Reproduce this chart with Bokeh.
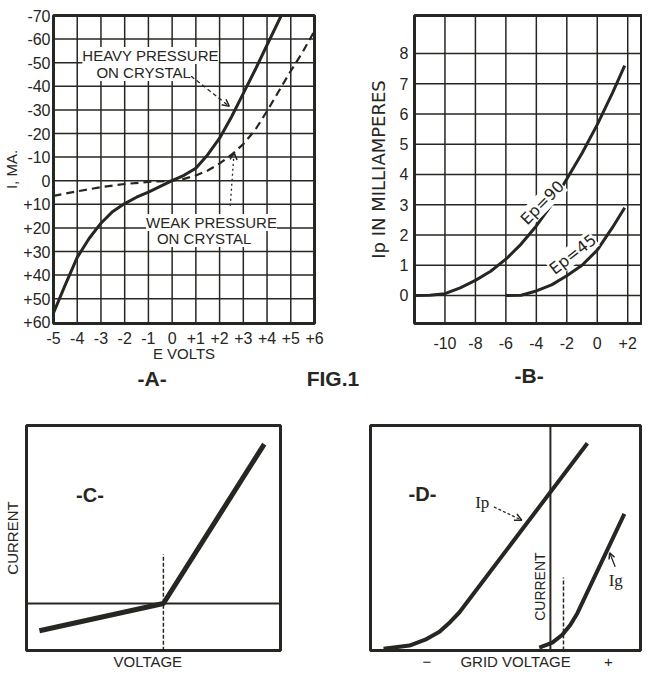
from bokeh.plotting import figure
from bokeh.models import Range1d, FixedTicker, Label, Arrow, OpenHead, Span, Title
from bokeh.layouts import column, row
from bokeh.embed import file_html
from bokeh.resources import INLINE

# ---------------- data ----------------
# Panel A: crystal detector characteristics (E volts vs I mA)
a_volts_heavy = [-5, -4.5, -4, -3.5, -3, -2.5, -2, -1.5, -1, -0.5, 0, 0.5, 1, 1.5, 2, 2.5, 3, 3.5, 4, 4.6]
a_ma_heavy = [56, 44, 32.5, 24.5, 18, 13, 9.7, 7, 4.8, 2.4, 0, -2.3, -5.3, -11, -18, -27, -37, -47, -57.5, -70]
a_volts_weak = [-5, -4, -3, -2, -1, 0, 0.5, 1, 1.5, 2, 2.5, 3, 3.5, 4, 4.5, 5, 5.5, 6]
a_ma_weak = [6.4, 4.5, 2.7, 1.4, 0.5, 0, -0.8, -2.2, -4.3, -7.3, -11, -15.5, -21.5, -29.5, -38, -46.5, -54.5, -63.5]
a_xticks = [-5, -4, -3, -2, -1, 0, 1, 2, 3, 4, 5, 6]
a_xtick_labels = ["-5", "-4", "-3", "-2", "-1", "0", "+1", "+2", "+3", "+4", "+5", "+6"]
a_yticks = [-70, -60, -50, -40, -30, -20, -10, 0, 10, 20, 30, 40, 50, 60]
a_ytick_labels = ["-70", "-60", "-50", "-40", "-30", "-20", "-10", "0", "+10", "+20", "+30", "+40", "+50", "+60"]

# Panel B: plate current vs grid volts
b_grid_90 = [-12, -11, -10, -9, -8, -7, -6, -5, -4, -3, -2, -1, 0, 1, 1.8]
b_ip_90 = [0, 0.01, 0.06, 0.25, 0.5, 0.8, 1.2, 1.7, 2.3, 3.0, 3.85, 4.7, 5.65, 6.7, 7.6]
b_grid_45 = [-6, -5, -4, -3, -2, -1, 0, 1, 1.8]
b_ip_45 = [0, 0.01, 0.15, 0.35, 0.65, 1.0, 1.5, 2.25, 2.9]
b_xticks = [-10, -8, -6, -4, -2, 0, 2]
b_xtick_labels = ["-10", "-8", "-6", "-4", "-2", "0", "+2"]
b_yticks = [0, 1, 2, 3, 4, 5, 6, 7, 8]
b_ytick_labels = ["0", "1", "2", "3", "4", "5", "6", "7", "8"]

# Panel C: idealised rectifier characteristic (arbitrary units)
c_voltage = [-48.8, 0, 39.7]
c_current = [-12.1, 0, 70.8]
c_marker_v = [0, 0]
c_marker_i = [-21, 21.9]

# Panel D: plate and grid current vs grid voltage (arbitrary units)
d_ip_v = [-60, -50.7, -45, -39.9, -36, -32.7, 13.3]
d_ip_i = [0.8, 2.2, 4.8, 8.3, 12.7, 17.0, 92.1]
d_ig_v = [-4.0, 0.7, 4.3, 7.2, 9.7, 26.6]
d_ig_i = [1.3, 3.5, 7.0, 11.4, 16.6, 60.7]
d_marker_v = [4.7, 4.7]
d_marker_i = [0, 32.4]

# ---------------- style ----------------
INK = "#262622"
FONT = "Liberation Sans"
NB = "\u00a0"


def make_fig(w, h, xr, yr, l, r, t, b):
    p = figure(width=w, height=h, x_range=xr, y_range=yr,
               output_backend="svg", toolbar_location=None,
               min_border_left=l, min_border_right=r,
               min_border_top=t, min_border_bottom=b)
    p.background_fill_color = "white"
    p.border_fill_color = "white"
    p.outline_line_color = INK
    p.outline_line_width = 3
    p.grid.visible = False
    for ax in p.axis:
        ax.major_tick_line_color = None
        ax.minor_tick_line_color = None
        ax.minor_tick_out = 0
        ax.major_tick_out = 0
        ax.axis_line_color = None
        ax.major_label_text_font = FONT
        ax.major_label_text_font_size = "16px"
        ax.major_label_text_color = INK
        ax.axis_label_text_font = FONT
        ax.axis_label_text_font_size = "15px"
        ax.axis_label_text_font_style = "normal"
        ax.axis_label_text_color = INK
    return p


def grid_lines(p, xt, yt):
    for t in xt:
        p.add_layout(Span(location=t, dimension="height", line_color=INK, line_width=1.5))
    for t in yt:
        p.add_layout(Span(location=t, dimension="width", line_color=INK, line_width=1.5))


def lab(p, x, y, text, size="15px", bold=False, angle=0.0, bg=None, align="center", font=FONT):
    p.add_layout(Label(x=x, y=y, text=text, text_align=align, text_baseline="middle",
                       text_font=font, text_font_size=size, text_color=INK,
                       text_font_style="bold" if bold else "normal", angle=angle,
                       background_fill_color=bg))


def caption(p, text, offset, standoff, size="21px", bold=True):
    p.add_layout(Title(text=text, align="left", offset=offset, standoff=standoff,
                       text_font=FONT, text_font_size=size,
                       text_font_style="bold" if bold else "normal",
                       text_color=INK), "below")


# ---------------- Panel A ----------------
pA = make_fig(364, 400, Range1d(-5, 6), Range1d(60.5, -70), 48, 50, 15, 77)
pA.xaxis.ticker = FixedTicker(ticks=a_xticks)
pA.xaxis.major_label_overrides = dict(zip(a_xticks, a_xtick_labels))
pA.xaxis.major_label_standoff = 8
pA.xaxis.axis_label = "E VOLTS"
pA.xaxis.axis_label_standoff = -2
pA.yaxis.ticker = FixedTicker(ticks=a_yticks)
pA.yaxis.major_label_overrides = dict(zip(a_yticks, a_ytick_labels))
pA.yaxis.major_label_standoff = 3
pA.yaxis.axis_label = "I, MA."
pA.yaxis.axis_label_standoff = 0
grid_lines(pA, a_xticks[1:-1], a_yticks[1:-1])
pA.line(a_volts_heavy, a_ma_heavy, line_color=INK, line_width=3)
pA.line(a_volts_weak, a_ma_weak, line_color=INK, line_width=2.2, line_dash="8 5")
lab(pA, -0.91, -53.1, "HEAVY PRESSURE", bg="white")
lab(pA, -1.2, -45.8, "ON CRYSTAL", bg="white")
lab(pA, 1.66, 17.7, "WEAK PRESSURE", bg="white")
lab(pA, 1.35, 24.5, "ON CRYSTAL", bg="white")
pA.add_layout(Arrow(end=OpenHead(size=7, line_color=INK, line_width=1.5),
                    x_start=0.8, y_start=-44.3, x_end=2.41, y_end=-31.5,
                    line_color=INK, line_width=1.3, line_dash="4 3"))
pA.add_layout(Arrow(end=OpenHead(size=7, line_color=INK, line_width=1.5),
                    x_start=2.45, y_start=10.6, x_end=2.61, y_end=-11.9,
                    line_color=INK, line_width=1.3, line_dash="2 3"))
caption(pA, "-A-" + NB * 24 + "FIG.1", 84, 0)

# ---------------- Panel B ----------------
pB = make_fig(278, 400, Range1d(-12, 2.97), Range1d(-0.926, 9.256), 46, 0, 15, 77)
pB.xaxis.ticker = FixedTicker(ticks=b_xticks)
pB.xaxis.major_label_overrides = dict(zip(b_xticks, b_xtick_labels))
pB.xaxis.major_label_standoff = 13
pB.yaxis.ticker = FixedTicker(ticks=b_yticks)
pB.yaxis.major_label_overrides = dict(zip(b_yticks, b_ytick_labels))
pB.yaxis.major_label_standoff = 6
pB.yaxis.axis_label = "Ip IN MILLIAMPERES"
pB.yaxis.axis_label_text_font = "DejaVu Sans"
pB.yaxis.axis_label_text_font_size = "18px"
pB.yaxis.axis_label_standoff = 8
grid_lines(pB, b_xticks, b_yticks)
pB.line(b_grid_90, b_ip_90, line_color=INK, line_width=3)
pB.line(b_grid_45, b_ip_45, line_color=INK, line_width=3)
lab(pB, -3.61, 3.07, "Ep=90", size="16px", angle=0.79, bg="white", font="DejaVu Sans")
lab(pB, -1.61, 1.36, "Ep=45", size="16px", angle=0.66, bg="white", font="DejaVu Sans")
caption(pB, "-B-", 100, 20)

# ---------------- Panel C ----------------
pC = make_fig(322, 270, Range1d(-53.9, 46.1), Range1d(-20.9, 79.1), 24, 42, 25, 18)
pC.xaxis.visible = False
pC.yaxis.ticker = FixedTicker(ticks=[])
pC.yaxis.major_label_standoff = 0
pC.yaxis.major_label_text_font_size = "0px"
pC.yaxis.axis_label = "CURRENT"
pC.yaxis.axis_label_standoff = 6
pC.add_layout(Span(location=0, dimension="width", line_color=INK, line_width=2))
pC.line(c_marker_v, c_marker_i, line_color=INK, line_width=1.5, line_dash="4 2")
pC.line(c_voltage, c_current, line_color=INK, line_width=5)
lab(pC, -28.9, 48.4, "-C-", size="20px", bold=True)
caption(pC, "VOLTAGE", 87, 1, size="15px", bold=False)

# ---------------- Panel D ----------------
pD = make_fig(320, 270, Range1d(-64.7, 32.4), Range1d(0, 100), 48, 2, 25, 18)
pD.yaxis.visible = False
pD.xaxis.visible = False
pD.add_layout(Span(location=0, dimension="height", line_color=INK, line_width=2))
pD.line(d_marker_v, d_marker_i, line_color=INK, line_width=1.5, line_dash="4 2")
pD.line(d_ip_v, d_ip_i, line_color=INK, line_width=4)
pD.line(d_ig_v, d_ig_i, line_color=INK, line_width=4)
lab(pD, -3.6, 28.4, "CURRENT", size="14px", angle=1.5708)
lab(pD, -24.5, 65.9, "Ip", size="17px", font="Liberation Serif")
lab(pD, 23.5, 31, "Ig", size="17px", font="Liberation Serif")
pD.add_layout(Arrow(end=OpenHead(size=7, line_color=INK, line_width=1.5),
                    x_start=-20.3, y_start=63.8, x_end=-10.3, y_end=57.9,
                    line_color=INK, line_width=1.3, line_dash="3 2"))
pD.add_layout(Arrow(end=OpenHead(size=6, line_color=INK, line_width=1.5),
                    x_start=23.3, y_start=37.2, x_end=21.3, y_end=43.4,
                    line_color=INK, line_width=1.3))
lab(pD, -46, 69.4, "-D-", size="20px", bold=True)
caption(pD, "\u2212" + NB * 7 + "GRID VOLTAGE" + NB * 8 + "+", 52, 1, size="15px", bold=False)

layout = column(row(pA, pB), row(pC, pD))
open("out.html", "w").write(file_html(layout, INLINE))
